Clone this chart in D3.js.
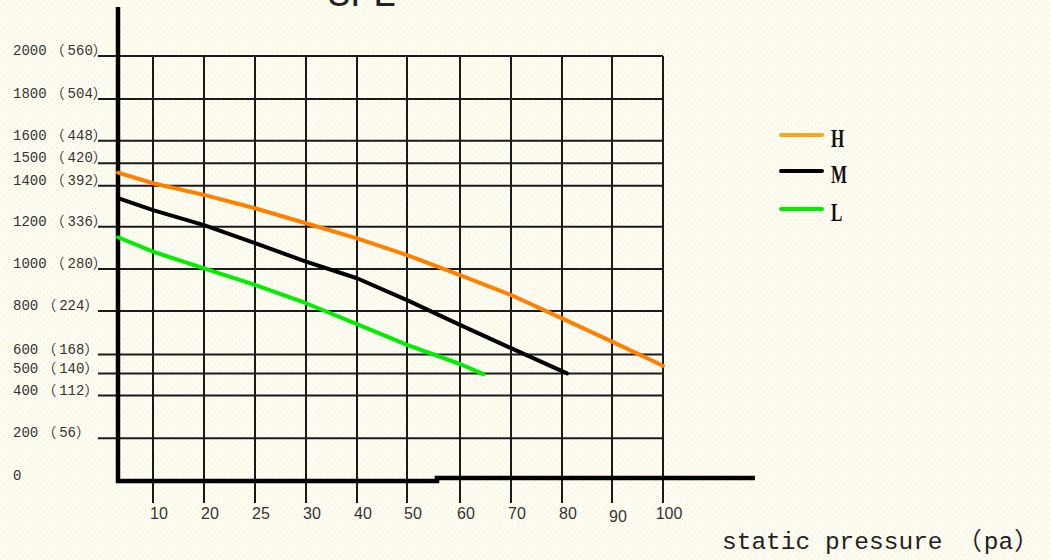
<!DOCTYPE html>
<html>
<head>
<meta charset="utf-8">
<script src="https://cdn.jsdelivr.net/npm/d3@7"></script>
<style>
  html, body { margin: 0; padding: 0; background: #fffdf0; }
  svg { display: block; }
</style>
</head>
<body>
<svg id="chart" width="1051" height="560"></svg>
<script>
// ---- data ----
const title = "SPE";
const xTickValues = [10, 20, 25, 30, 40, 50, 60, 70, 80, 90, 100];
const yTickValues = [0, 200, 400, 500, 600, 800, 1000, 1200, 1400, 1500, 1600, 1800, 2000];
const yTickLabels = ["0", "200（56）", "400（112）", "500（140）", "600（168）", "800（224）",
  "1000（280）", "1200（336）", "1400（392）", "1500（420）", "1600（448）", "1800（504）", "2000（560）"];
const xAxisTitle = "static pressure （pa）";

const seriesNames = ["H", "M", "L"];
const pressureH = [0, 10, 20, 25, 30, 40, 50, 60, 70, 80, 90, 100];
const airflowH  = [1458, 1411, 1355, 1290, 1217, 1145, 1066, 971, 876, 766, 659, 541];
const pressureM = [0, 10, 20, 25, 30, 40, 50, 60, 70, 81];
const airflowM  = [1339, 1281, 1208, 1122, 1035, 956, 852, 736, 629, 501];
const pressureL = [0, 10, 20, 25, 30, 40, 50, 60, 64.6];
const airflowL  = [1150, 1082, 1003, 924, 837, 740, 644, 550, 497];

// ---- layout (hand-drawn grid, uneven spacing) ----
const xDomain = [0].concat(xTickValues);
const xRange = [118, 153, 204, 255, 306, 357, 407, 460, 511, 562, 612, 663];
const yRange = [481, 438.3, 395.5, 373.5, 354.5, 311, 269, 226.7, 185.7, 163.3, 140.7, 99, 56];

const x = d3.scaleLinear().domain(xDomain).range(xRange);
const y = d3.scaleLinear().domain(yTickValues).range(yRange);

const svg = d3.select("#chart");

// background texture
const defs = svg.append("defs");
const pat = defs.append("pattern").attr("id", "tex").attr("width", 6).attr("height", 6)
  .attr("patternUnits", "userSpaceOnUse");
pat.append("rect").attr("width", 6).attr("height", 6).attr("fill", "#fffdf0");
pat.append("rect").attr("x", 1).attr("y", 1).attr("width", 1).attr("height", 1).attr("fill", "#f6e2ee");
pat.append("rect").attr("x", 4).attr("y", 3).attr("width", 1).attr("height", 1).attr("fill", "#e6ecf4");
pat.append("rect").attr("x", 2).attr("y", 4).attr("width", 1).attr("height", 1).attr("fill", "#f3ead9");
svg.append("rect").attr("width", 1051).attr("height", 560).attr("fill", "url(#tex)");

// helper: render text with full-width parentheses spaced like the source
const CJK = "'Noto Sans CJK SC'";
function richText(sel, str, baseFont, pads) {
  const parts = str.split(/([（）])/).filter(p => p.length);
  let prev = null;
  parts.forEach(p => {
    const t = sel.append("tspan").text(p);
    if (p === "（") { t.attr("font-family", CJK).attr("dx", pads[0]); }
    else if (p === "）") { t.attr("font-family", CJK).attr("dx", pads[2]); }
    else {
      t.attr("font-family", baseFont);
      if (prev === "（") t.attr("dx", pads[1]);
    }
    prev = p;
  });
}

// title (mostly cut off at top, as in the source image)
svg.append("text").text(title)
  .attr("x", 362).attr("y", 6).attr("text-anchor", "middle")
  .attr("font-family", "Liberation Mono").attr("font-size", 38).attr("fill", "#222");

const gridColor = "#1a1a1a";

// horizontal grid lines (extending left as ticks)
svg.append("g").selectAll("line").data(yTickValues.filter(v => v > 0)).join("line")
  .attr("x1", 98).attr("x2", x(100))
  .attr("y1", d => y(d)).attr("y2", d => y(d))
  .attr("stroke", gridColor).attr("stroke-width", 2);

// vertical grid lines (extending below as ticks)
svg.append("g").selectAll("line").data(xTickValues).join("line")
  .attr("x1", d => x(d)).attr("x2", d => x(d))
  .attr("y1", y(2000)).attr("y2", 503)
  .attr("stroke", gridColor).attr("stroke-width", 2);

// y tick labels
svg.append("g").selectAll("text").data(yTickValues).join("text")
  .attr("x", 13).attr("y", d => y(d) - 5)
  .attr("dominant-baseline", "middle")
  .attr("font-size", 14)
  .attr("fill", "#333")
  .each(function(d, i) { richText(d3.select(this), yTickLabels[i], "Liberation Mono", [4, 3, 0]); });

// x tick labels
svg.append("g").selectAll("text").data(xTickValues).join("text")
  .attr("x", d => x(d) + 6).attr("y", d => d === 90 ? 518 : 515)
  .attr("text-anchor", "middle").attr("dominant-baseline", "middle")
  .attr("font-family", "Liberation Sans").attr("font-size", 16)
  .attr("fill", "#333")
  .text(d => d);

// axes (thick black)
svg.append("line").attr("x1", 118).attr("x2", 118).attr("y1", 7).attr("y2", 483)
  .attr("stroke", "#000").attr("stroke-width", 4.5);
svg.append("path")
  .attr("d", `M116,${y(0)} L437,${y(0)} L437,${y(0) - 3} L755,${y(0) - 3}`)
  .attr("fill", "none").attr("stroke", "#000").attr("stroke-width", 4.5);

// series
const series = [
  { name: "H", xs: pressureH, ys: airflowH, color: "#ff7f00", legendColor: "#ffa31a" },
  { name: "M", xs: pressureM, ys: airflowM, color: "#000000", legendColor: "#000000" },
  { name: "L", xs: pressureL, ys: airflowL, color: "#00ee00", legendColor: "#00ee00" }
];
const line = d3.line().x(d => x(d[0])).y(d => y(d[1]));
svg.append("g").selectAll("path").data(series).join("path")
  .attr("d", s => line(s.xs.map((v, i) => [v, s.ys[i]])))
  .attr("fill", "none").attr("stroke", s => s.color)
  .attr("stroke-width", 4).attr("stroke-linejoin", "round").attr("stroke-linecap", "round");

// legend
const legendY = [135, 171, 209];
const lg = svg.append("g");
series.forEach((s, i) => {
  lg.append("line").attr("x1", 781).attr("x2", 822)
    .attr("y1", legendY[i]).attr("y2", legendY[i])
    .attr("stroke", s.legendColor).attr("stroke-width", 4).attr("stroke-linecap", "round");
  lg.append("text").text(seriesNames[i])
    .attr("transform", `translate(831,${legendY[i] + 12}) scale(0.68,1)`)
    .attr("font-family", "Liberation Serif").attr("font-size", 25)
    .attr("font-weight", "bold").attr("fill", "#111");
});

// x axis title
const xt = svg.append("text")
  .attr("x", 722).attr("y", 543)
  .attr("dominant-baseline", "middle")
  .attr("font-size", 24.5)
  .attr("fill", "#222");
richText(xt, xAxisTitle, "Liberation Mono", [0, 2, 1]);
</script>
</body>
</html>
